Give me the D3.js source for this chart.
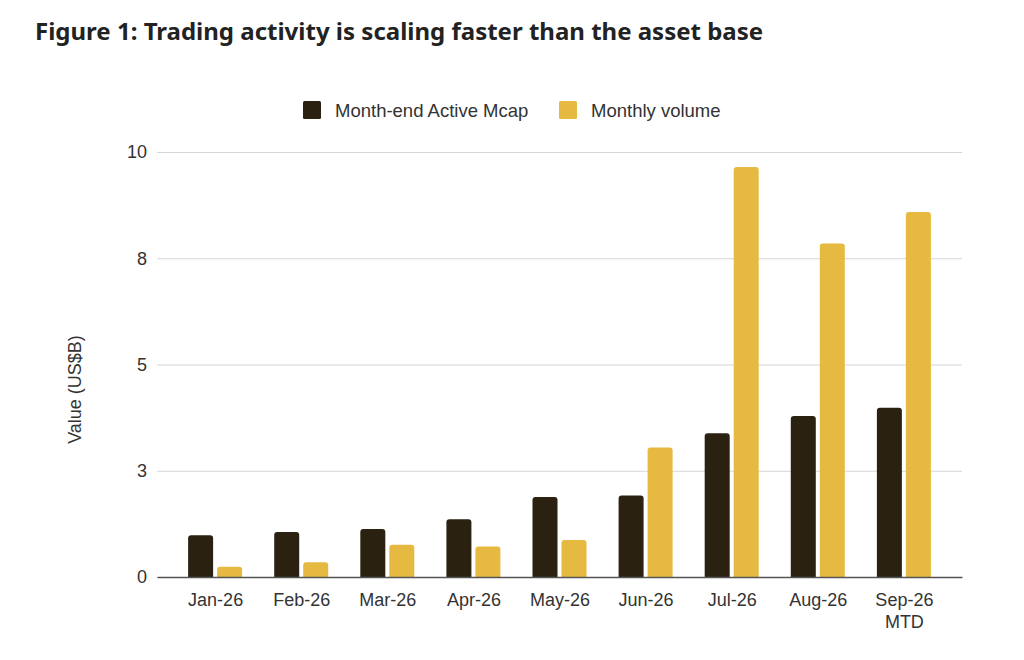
<!DOCTYPE html>
<html lang="en">
<head>
    <meta charset="UTF-8">
    <title>Trading activity vs asset base</title>
    <script src="https://d3js.org/d3.v7.min.js"></script>
    <style>
        body { margin: 0; background: #ffffff; }
        #canvas { display: block; }
        .tick text { font-family: "Liberation Sans", Arial, sans-serif; font-size: 18px; fill: #333333; }
    </style>
</head>
<body>
    <svg id="canvas" width="1024" height="660"></svg>
    <script>
        // chart data
        const months = ['Jan-26', 'Feb-26', 'Mar-26', 'Apr-26', 'May-26', 'Jun-26', 'Jul-26', 'Aug-26', 'Sep-26 MTD'];
        const activeMcap = [0.98, 1.06, 1.13, 1.36, 1.88, 1.92, 3.38, 3.79, 3.98];
        const monthlyVolume = [0.24, 0.35, 0.76, 0.72, 0.87, 3.05, 9.65, 7.85, 8.59];
        const seriesNames = ['Month-end Active Mcap', 'Monthly volume'];
        const seriesColors = ['#2a2111', '#e6b941'];
        const yTicks = [0, 2.5, 5, 7.5, 10];
        const yTickLabels = ['0', '3', '5', '8', '10'];

        const svg = d3.select('#canvas');
        const margin = {top: 152, right: 62, bottom: 83, left: 157};
        const width = 1024 - margin.left - margin.right;
        const height = 660 - margin.top - margin.bottom;
        const barW = 25, barGap = 4;

        // title
        svg.append('text')
            .attr('x', 35)
            .attr('y', 40)
            .attr('font-family', '"Noto Sans", "Open Sans", sans-serif')
            .attr('font-weight', 700)
            .attr('font-size', 24)
            .attr('fill', '#222222')
            .text('Figure 1: Trading activity is scaling faster than the asset base');

        let x = d3.scalePoint()
            .domain(months)
            .range([0, width])
            .padding(0.675);
        let y = d3.scaleLinear()
            .domain([0, 10])
            .range([height, 0]);

        let g = svg.append('g')
            .attr('transform', `translate(${margin.left},${margin.top})`);

        // gridlines + y labels
        let yAxis = g.append('g')
            .call(d3.axisLeft(y)
                .tickValues(yTicks)
                .tickSize(-width)
                .tickPadding(10)
                .tickFormat((d, i) => yTickLabels[i]));
        yAxis.select('.domain').remove();
        yAxis.selectAll('.tick line').attr('stroke', '#d6d6d6').attr('stroke-width', 1.2);

        // y axis title
        svg.append('text')
            .attr('transform', `translate(81,${margin.top + height / 2 + 25}) rotate(-90)`)
            .attr('text-anchor', 'middle')
            .attr('font-family', '"Liberation Sans", Arial, sans-serif')
            .attr('font-size', 18)
            .attr('fill', '#333333')
            .text('Value (US$B)');

        // bars, rounded top corners
        function barPath(cx, v) {
            let x0 = cx, x1 = cx + barW, y0 = y(0), y1 = y(v), r = Math.min(3, (y0 - y1) / 2);
            return `M${x0},${y0}V${y1 + r}Q${x0},${y1} ${x0 + r},${y1}H${x1 - r}Q${x1},${y1} ${x1},${y1 + r}V${y0}Z`;
        }
        [activeMcap, monthlyVolume].forEach(function (vals, s) {
            g.append('g').selectAll('path')
                .data(vals)
                .enter()
                .append('path')
                .attr('fill', seriesColors[s])
                .attr('d', function (d, i) {
                    let cx = x(months[i]) + (s === 0 ? -(barW + barGap / 2) : barGap / 2);
                    return barPath(cx, d);
                });
        });

        // baseline + x labels
        let xAxis = g.append('g')
            .attr('transform', `translate(0,${height})`)
            .call(d3.axisBottom(x).tickSize(0).tickPadding(0).tickFormat(''));
        xAxis.select('.domain').attr('stroke', '#555555').attr('stroke-width', 1.5);
        xAxis.selectAll('.tick').each(function (d) {
            let t = d3.select(this).select('text')
                .attr('dy', null)
                .attr('y', 0);
            d.split(' ').forEach(function (part, k) {
                t.append('tspan')
                    .attr('x', 0)
                    .attr('y', 29 + k * 22)
                    .text(part);
            });
        });

        // legend
        let legend = svg.append('g');
        let legendX = [303, 559];
        seriesNames.forEach(function (name, i) {
            legend.append('rect')
                .attr('x', legendX[i])
                .attr('y', 101)
                .attr('width', 18)
                .attr('height', 18)
                .attr('rx', 1.5)
                .attr('fill', seriesColors[i]);
            legend.append('text')
                .attr('x', legendX[i] + 32)
                .attr('y', 117)
                .attr('font-family', '"Liberation Sans", Arial, sans-serif')
                .attr('font-size', 18.5)
                .attr('fill', '#333333')
                .text(name);
        });
    </script>
</body>
</html>
